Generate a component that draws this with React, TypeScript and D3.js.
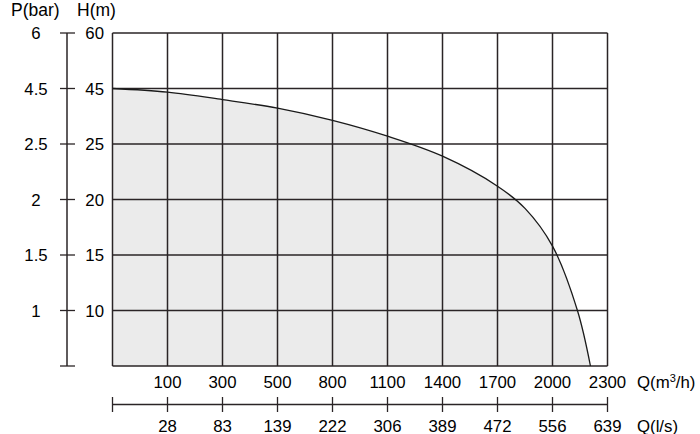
import React from "react";
import * as d3 from "d3";

// Q axis (m3/h) — equally spaced grid columns, first column edge unlabeled (0)
const qTicks = [0, 100, 300, 500, 800, 1100, 1400, 1700, 2000, 2300];
const qlsTicks = ["", "28", "83", "139", "222", "306", "389", "472", "556", "639"];
// H axis (m) — equally spaced grid rows, bottom edge unlabeled (5)
const hTicks = [5, 10, 15, 20, 25, 45, 60];
const pTicks = ["", "1", "1.5", "2", "2.5", "4.5", "6"];

// Pump curve
const curveQ = [0, 100, 300, 500, 800, 1100, 1400, 1700, 1850, 2000, 2136, 2207];
const curveH = [45, 43.7, 41, 37.9, 33.5, 27.8, 23.9, 21.2, 19.2, 15.8, 10, 5];

const W = 700;
const H = 434;
const left = 112.5;
const right = 607.5;
const top = 33;
const bottom = 366;
const ink = "#2a2426";
const font = "'Liberation Sans', Arial, Helvetica, sans-serif";

export default function App() {
  const colW = (right - left) / (qTicks.length - 1);
  const rowH = (bottom - top) / (hTicks.length - 1);
  const x = d3
    .scaleLinear()
    .domain(qTicks)
    .range(qTicks.map((_, i) => left + i * colW));
  const y = d3
    .scaleLinear()
    .domain(hTicks)
    .range(hTicks.map((_, i) => bottom - i * rowH));

  const pts: [number, number][] = curveQ.map((q, i) => [q, curveH[i]]);
  const curve = d3.curveCatmullRom.alpha(0.5);
  const line = d3
    .line<[number, number]>()
    .x((d) => x(d[0]))
    .y((d) => y(d[1]))
    .curve(curve);
  const area = d3
    .area<[number, number]>()
    .x((d) => x(d[0]))
    .y0(bottom)
    .y1((d) => y(d[1]))
    .curve(curve);

  const axisX = 67;
  const lowAxisY = 404.5;

  return (
    <svg
      width={W}
      height={H}
      style={{ position: "absolute", left: 0, top: 0, background: "#fff" }}
      fontFamily={font}
    >
      <rect x={0} y={0} width={W} height={H} fill="#fff" />
      <path d={area(pts) || ""} fill="#ebebeb" />
      {/* grid verticals */}
      {qTicks.map((q) => (
        <line key={"v" + q} x1={x(q)} x2={x(q)} y1={top} y2={bottom} stroke={ink} strokeWidth={1.5} />
      ))}
      {/* grid horizontals */}
      {hTicks.map((h) => (
        <line key={"h" + h} x1={left} x2={right} y1={y(h)} y2={y(h)} stroke={ink} strokeWidth={1.5} />
      ))}
      <path d={line(pts) || ""} fill="none" stroke="#1a1a1a" strokeWidth={1.3} />

      {/* left axis */}
      <line x1={axisX} x2={axisX} y1={top} y2={bottom} stroke={ink} strokeWidth={1.5} />
      {hTicks.map((h) => (
        <line key={"lt" + h} x1={60} x2={75} y1={y(h)} y2={y(h)} stroke={ink} strokeWidth={1.3} />
      ))}
      {hTicks.map((h, i) =>
        i === 0 ? null : (
          <text key={"hl" + h} x={104} y={y(h) + 6} textAnchor="end" fontSize={16.8} fill="#000">
            {h}
          </text>
        )
      )}
      {pTicks.map((p, i) =>
        p === "" ? null : (
          <text key={"pl" + i} x={36} y={y(hTicks[i]) + 6} textAnchor="middle" fontSize={16.8} fill="#000">
            {p}
          </text>
        )
      )}
      <text x={11} y={16} fontSize={17.5} fill="#000">P(bar)</text>
      <text x={77} y={16} fontSize={17.5} fill="#000">H(m)</text>

      {/* Q m3/h labels */}
      {qTicks.map((q, i) =>
        i === 0 ? null : (
          <text key={"ql" + q} x={x(q)} y={388} textAnchor="middle" fontSize={16.8} fill="#000">
            {q}
          </text>
        )
      )}
      <text x={637} y={388} fontSize={16.8} fill="#000">
        Q(m<tspan dy={-6} fontSize={11}>3</tspan>
        <tspan dy={6}>/h)</tspan>
      </text>

      {/* Q l/s axis */}
      <line x1={left} x2={right} y1={lowAxisY} y2={lowAxisY} stroke={ink} strokeWidth={1.3} />
      {qTicks.map((q) => (
        <line key={"lq" + q} x1={x(q)} x2={x(q)} y1={397} y2={412} stroke={ink} strokeWidth={1.3} />
      ))}
      {qlsTicks.map((l, i) =>
        l === "" ? null : (
          <text key={"ls" + i} x={x(qTicks[i])} y={431.5} textAnchor="middle" fontSize={16.8} fill="#000">
            {l}
          </text>
        )
      )}
      <text x={637} y={431.5} fontSize={16.8} fill="#000">Q(l/s)</text>
    </svg>
  );
}
